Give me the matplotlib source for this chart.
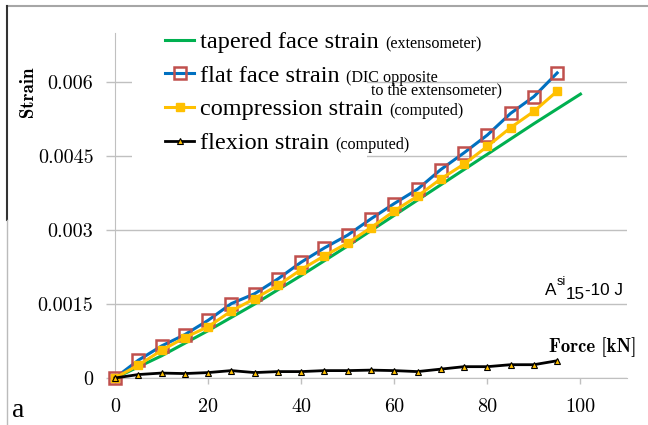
import matplotlib
matplotlib.use("Agg")
import matplotlib.pyplot as plt
from matplotlib.lines import Line2D
from matplotlib.patches import Rectangle

# force [kN] steps of the DIC / computed series
force = [0, 5, 10, 15, 20, 25, 30, 35, 40, 45, 50, 55, 60, 65, 70, 75, 80, 85, 90, 95]
flat_face = [0, 0.00036, 0.00065, 0.00088, 0.00117, 0.00151, 0.00171, 0.00201, 0.00235, 0.00264,
             0.00290, 0.00323, 0.00354, 0.00383, 0.00423, 0.00457, 0.00493, 0.00537, 0.00571, 0.00619]
compression = [0, 0.00026, 0.00056, 0.00082, 0.00104, 0.00136, 0.00161, 0.00188, 0.00220, 0.00248,
               0.00274, 0.00305, 0.00339, 0.00369, 0.00404, 0.00434, 0.00470, 0.00508, 0.00541, 0.00582]
flexion = [0, 0.00007, 0.00010, 0.00009, 0.00011, 0.00015, 0.00011, 0.00013, 0.00013, 0.00015,
           0.00015, 0.00016, 0.00015, 0.00013, 0.00018, 0.00023, 0.00023, 0.00027, 0.00027, 0.00035]

# extensometer record (no markers)
force_ext = [0, 10, 20, 30, 40, 50, 60, 70, 80, 90, 100]
tapered = [0, 0.00045, 0.00096, 0.00150, 0.00208, 0.00268, 0.00330, 0.00392, 0.00454, 0.00516, 0.00576]

labels = ["tapered face strain", "flat face strain", "compression strain", "flexion strain"]
notes = ["(extensometer)", "(DIC opposite", "(computed)", "(computed)"]
xticks = [0, 20, 40, 60, 80, 100]
yticks = [0, 0.0015, 0.003, 0.0045, 0.006]
ytick_labels = ["0", "0.0015", "0.003", "0.0045", "0.006"]

GREEN, BLUE, RED, YELLOW = "#00b050", "#0070c0", "#c0504d", "#ffc000"
GRID = "#c0c0c0"

W, H = 648, 425
fig = plt.figure(figsize=(W / 100, H / 100), dpi=100)
ax = fig.add_axes([115 / W, 1 - 378 / H, (627 - 115) / W, (378 - 33) / H])
ax.set_xlim(0, 110)
ax.set_ylim(0, 0.007)

ax.plot(force_ext, tapered, color=GREEN, lw=2.2, label=labels[0], zorder=3)
ax.plot(force, flat_face, color=BLUE, lw=2.2, marker="s", ms=8.5, mfc="none", mec=RED, mew=1.8,
        label=labels[1], clip_on=False, zorder=4)
ax.plot(force, compression, color=YELLOW, lw=2.2, marker="s", ms=5.5, mfc=YELLOW, mec=YELLOW,
        label=labels[2], clip_on=False, zorder=5)
ax.plot(force, flexion, color="black", lw=2, marker="^", ms=4.5, mfc=YELLOW, mec="black", mew=0.8,
        label=labels[3], clip_on=False, zorder=6)

for s in ["top", "right"]:
    ax.spines[s].set_visible(False)
for s in ["left", "bottom"]:
    ax.spines[s].set_color(GRID)
ax.set_axisbelow(True)
ax.yaxis.grid(True, color=GRID, lw=1)

ax.set_xticks(xticks)
ax.set_xticklabels([str(t) for t in xticks])
ax.set_yticks(yticks)
ax.set_yticklabels(ytick_labels)
ax.tick_params(axis="y", length=6.5, width=1, color=GRID, pad=9, labelsize=14.5, labelfontfamily="cmr10")
ax.tick_params(axis="x", length=4.3, width=1, color=GRID, pad=10, labelsize=14.5, labelfontfamily="cmr10")

# white box behind the legend hides the grid there
ax.add_patch(Rectangle((132 / W, 1 - 165 / H), (367 - 132) / W, (165 - 25) / H,
                       transform=fig.transFigure, facecolor="white", edgecolor="none", zorder=1))

leg = ax.legend(loc="upper left", bbox_to_anchor=(165 / W, 1 - 31 / H), bbox_transform=fig.transFigure,
                frameon=False, prop={"family": "Liberation Serif", "size": 17.5},
                handlelength=1.2, handletextpad=0.25, labelspacing=0.48, borderpad=0, borderaxespad=0)

fig.text(28 / W, 1 - 92 / H, "Strain", family="cmb10", size=13.5, rotation=90, ha="center", va="center")
fig.text(636 / W, 1 - 347 / H, "Force [kN]", family="cmb10", size=13.5, ha="right", va="center")
fig.text(12 / W, 1 - 417 / H, "a", family="Liberation Serif", size=20, va="baseline")

# frame remains at the image border
fig.add_artist(Line2D([7 / W, 1], [1 - 6 / H, 1 - 6 / H], color="#a6a6a6", lw=1.5))
fig.add_artist(Line2D([7 / W, 7 / W], [1 - 6 / H, 1 - 220 / H], color="#333333", lw=1.5))
fig.add_artist(Line2D([7 / W, 7 / W], [1 - 220 / H, 0], color="#bbbbbb", lw=1))

fig.canvas.draw()
r = fig.canvas.get_renderer()

# small notes after each legend entry
for txt, note in zip(leg.get_texts(), notes):
    bb = txt.get_window_extent(r)
    d = r.get_text_width_height_descent("lp", txt.get_fontproperties(), ismath=False)[2]
    base = bb.y0 + d
    n = fig.text((bb.x1 + 6) / W, base / H, note, family="Liberation Serif", size=11.6, va="baseline")
    if note.startswith("(DIC"):
        nb = n.get_window_extent(r)
        fig.text((nb.x0 + 25) / W, (base - 13) / H, "to the extensometer)",
                 family="Liberation Serif", size=11.6, va="baseline")

# specimen name A^si 15-10 J
x, base = 545, H - 295
for s, size, dy in [("A", 12.3, 0), ("si", 9, 10), ("15", 12.3, -4), ("-10 J", 12.3, 0)]:
    t = fig.text(x / W, (base + dy) / H, s, family="Liberation Sans", size=size, va="baseline")
    x = t.get_window_extent(r).x1

fig.savefig("out.png", dpi=100)
